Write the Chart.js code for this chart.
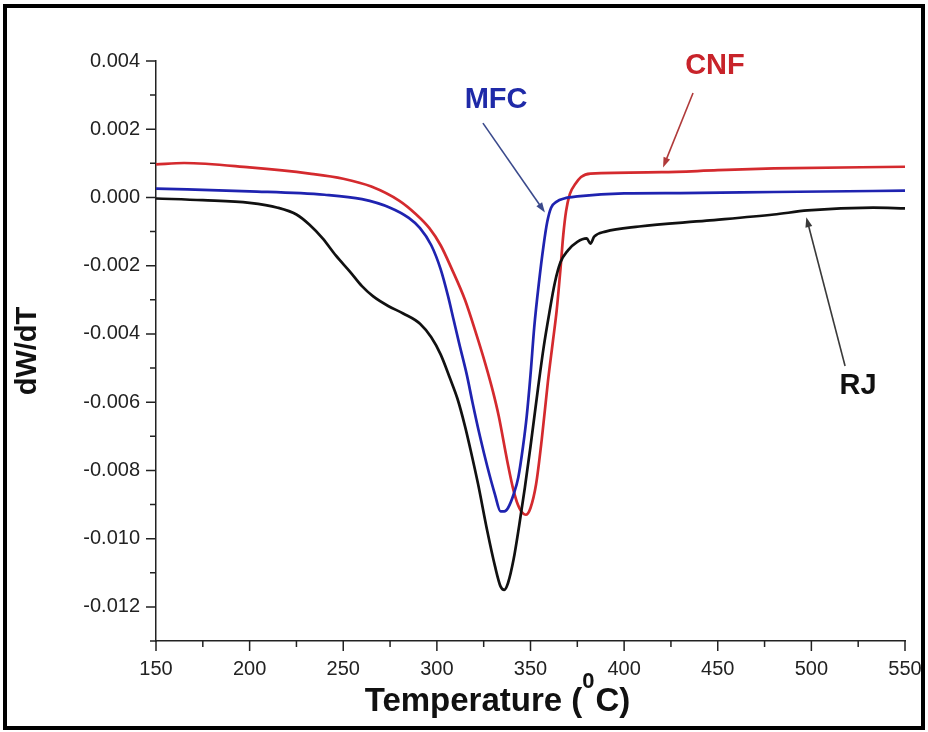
<!DOCTYPE html>
<html>
<head>
<meta charset="utf-8">
<script src="https://cdn.jsdelivr.net/npm/chart.js@4.4.0/dist/chart.umd.min.js"></script>
<style>
  html, body { margin: 0; padding: 0; background: #fff; }
  #wrap { position: relative; width: 928px; height: 732px; }
  #frame {
    position: absolute; left: 3px; top: 4px; width: 922px; height: 726px;
    border: 4px solid #000; box-sizing: border-box; pointer-events: none;
  }
  canvas { position: absolute; left: 0; top: 0; }
</style>
</head>
<body>
<div id="wrap">
  <canvas id="dtgChart" width="928" height="732"></canvas>
  <div id="frame"></div>
</div>
<script>
// Tick labels
const xTicks = [150, 200, 250, 300, 350, 400, 450, 500, 550];
const yTicks = [0.004, 0.002, 0.000, -0.002, -0.004, -0.006, -0.008, -0.010, -0.012];

// RJ (raw jute) - black
const rjTemp  = [150, 175, 200, 215, 225, 232, 239, 246, 254, 260, 266, 274, 282, 291, 297, 302, 307, 311, 315, 318,
                 322, 327, 331, 334, 336, 338, 341, 344, 347, 350, 354, 357, 360, 363, 366, 370, 375, 380, 382, 384,
                 390, 408, 444, 480, 498, 533, 550];
const rjValue = [-0.00003, -0.00008, -0.00016, -0.0003, -0.0005, -0.0008, -0.0012, -0.0017, -0.0022, -0.0026,
                 -0.0029, -0.00318, -0.0034, -0.0037, -0.0041, -0.0046, -0.0053, -0.0059, -0.0067, -0.0074,
                 -0.0084, -0.0098, -0.0108, -0.0114, -0.0115, -0.0113, -0.0106, -0.0096, -0.0085, -0.0073,
                 -0.0056, -0.0044, -0.0034, -0.0025, -0.0019, -0.00155, -0.0013, -0.0012, -0.00135, -0.00115,
                 -0.001, -0.00085, -0.00068, -0.0005, -0.00038, -0.0003, -0.00032];

// MFC - blue
const mfcTemp  = [150, 200, 240, 260, 275, 285, 291, 297, 302, 306, 309, 312, 316, 319, 323, 327, 331, 334, 336, 338,
                  341, 343.5, 346, 348, 350, 352, 354.5, 357, 359, 361, 364, 368, 375, 400, 430, 480, 550];
const mfcValue = [0.00026, 0.00018, 0.00008, -0.00005, -0.0003, -0.0006, -0.0009, -0.0014, -0.0021, -0.0029,
                  -0.0036, -0.0043, -0.0052, -0.006, -0.007, -0.0079, -0.0087, -0.0092, -0.0092, -0.0091,
                  -0.0087, -0.0082, -0.0073, -0.0064, -0.0052, -0.0038, -0.0025, -0.0014, -0.0007, -0.0003,
                  -0.00012, -0.00003, 0.00003, 0.00012, 0.00013, 0.00016, 0.0002];

// CNF - red
const cnfTemp  = [150, 165, 200, 232, 250, 265, 280, 289, 296, 302, 308, 315, 321, 326, 330, 333, 337.5, 341, 344,
                  347.5, 350, 353, 356, 359.3, 362, 364, 366, 367.5, 369, 371, 374, 377, 382, 420, 450, 480, 550];
const cnfValue = [0.00097, 0.00101, 0.00088, 0.0007, 0.00055, 0.00032, -0.0001, -0.0005, -0.0009, -0.0014,
                  -0.0021, -0.0030, -0.0040, -0.0049, -0.0057, -0.0064, -0.0077, -0.0086, -0.0091,
                  -0.0093, -0.0091, -0.0084, -0.0071, -0.0054, -0.0042, -0.0033, -0.0021, -0.0011, -0.0004,
                  0.0001, 0.0004, 0.0006, 0.0007, 0.00074, 0.0008, 0.00085, 0.0009];

// Curve labels with arrows (data coordinates)
const callouts = [
    { text: 'MFC', color: '#1f2aa8', arrow: '#3b4a8c', at: [331.6, 0.00285], from: [324.6, 0.00218], to: [357.7, -0.00044] },
    { text: 'CNF', color: '#c8232a', arrow: '#b03a3a', at: [448.5, 0.00385], from: [436.8, 0.00306], to: [420.8, 0.00088] },
    { text: 'RJ',  color: '#111111', arrow: '#3a3a3a', at: [524.9, -0.00553], from: [518.0, -0.00494], to: [497.3, -0.00058] }
];

const toPoints = (xs, ys) => xs.map((x, i) => ({ x: x, y: ys[i] }));

// axis ticks (major + minor), callouts and the x title with superscript
const decorPlugin = {
    id: 'decor',
    afterDraw(chart) {
        const ctx = chart.ctx;
        const xs = chart.scales.x;
        const ys = chart.scales.y;
        const area = chart.chartArea;

        ctx.save();
        ctx.strokeStyle = '#222';
        ctx.lineWidth = 1.5;
        ctx.beginPath();
        for (let v = 150; v <= 550; v += 25) {
            const px = xs.getPixelForValue(v);
            const len = (v % 50 === 0) ? 10 : 6;
            ctx.moveTo(px, area.bottom);
            ctx.lineTo(px, area.bottom + len);
        }
        for (let k = -13; k <= 4; k++) {
            const py = ys.getPixelForValue(k / 1000);
            const len = (k % 2 === 0) ? 10 : 6;
            ctx.moveTo(area.left, py);
            ctx.lineTo(area.left - len, py);
        }
        ctx.stroke();

        // callouts
        callouts.forEach(c => {
            const x1 = xs.getPixelForValue(c.from[0]), y1 = ys.getPixelForValue(c.from[1]);
            const x2 = xs.getPixelForValue(c.to[0]), y2 = ys.getPixelForValue(c.to[1]);
            const ang = Math.atan2(y2 - y1, x2 - x1);
            ctx.strokeStyle = c.arrow;
            ctx.fillStyle = c.arrow;
            ctx.lineWidth = 1.6;
            ctx.beginPath();
            ctx.moveTo(x1, y1);
            ctx.lineTo(x2 - 6 * Math.cos(ang), y2 - 6 * Math.sin(ang));
            ctx.stroke();
            ctx.beginPath();
            ctx.moveTo(x2, y2);
            ctx.lineTo(x2 - 10 * Math.cos(ang) + 3.5 * Math.sin(ang), y2 - 10 * Math.sin(ang) - 3.5 * Math.cos(ang));
            ctx.lineTo(x2 - 10 * Math.cos(ang) - 3.5 * Math.sin(ang), y2 - 10 * Math.sin(ang) + 3.5 * Math.cos(ang));
            ctx.closePath();
            ctx.fill();

            ctx.fillStyle = c.color;
            ctx.font = "bold 29px 'Liberation Sans', Arial, sans-serif";
            ctx.textAlign = 'center';
            ctx.textBaseline = 'middle';
            ctx.fillText(c.text, xs.getPixelForValue(c.at[0]), ys.getPixelForValue(c.at[1]));
        });

        // x axis title: Temperature (0C) with superscript 0
        const big = "bold 33px 'Liberation Sans', Arial, sans-serif";
        const small = "bold 22px 'Liberation Sans', Arial, sans-serif";
        const p1 = 'Temperature (', p2 = '0', p3 = 'C)';
        ctx.fillStyle = '#111';
        ctx.textAlign = 'left';
        ctx.textBaseline = 'alphabetic';
        ctx.font = big;
        const w1 = ctx.measureText(p1).width, w3 = ctx.measureText(p3).width;
        ctx.font = small;
        const w2 = ctx.measureText(p2).width + 1;
        const cx = (area.left + area.right) / 2 - 33;
        let x = cx - (w1 + w2 + w3) / 2;
        const base = 711;
        ctx.font = big;
        ctx.fillText(p1, x, base);
        x += w1;
        ctx.font = small;
        ctx.fillText(p2, x, base - 23);
        x += w2;
        ctx.font = big;
        ctx.fillText(p3, x, base);
        ctx.restore();
    }
};

const ctx = document.getElementById('dtgChart').getContext('2d');

new Chart(ctx, {
    type: 'scatter',
    data: {
        datasets: [
            {
                label: 'RJ',
                data: toPoints(rjTemp, rjValue),
                borderColor: '#111111',
                borderWidth: 2.7
            },
            {
                label: 'MFC',
                data: toPoints(mfcTemp, mfcValue),
                borderColor: '#1f23b0',
                borderWidth: 2.7
            },
            {
                label: 'CNF',
                data: toPoints(cnfTemp, cnfValue),
                borderColor: '#d42a2e',
                borderWidth: 2.7
            }
        ].map(d => Object.assign(d, {
            showLine: true,
            pointRadius: 0,
            fill: false,
            cubicInterpolationMode: 'monotone'
        }))
    },
    options: {
        responsive: false,
        animation: false,
        layout: { padding: { top: 61, right: 23, bottom: 0, left: 0 } },
        plugins: {
            legend: { display: false },
            tooltip: { enabled: false }
        },
        scales: {
            x: {
                type: 'linear',
                min: 150,
                max: 550,
                afterBuildTicks: scale => { scale.ticks = xTicks.map(v => ({ value: v })); },
                afterFit: scale => { scale.height = 91; },
                ticks: {
                    color: '#222',
                    padding: 6,
                    maxRotation: 0,
                    font: { family: "'Liberation Sans', Arial, sans-serif", size: 20 }
                },
                grid: { display: false, drawTicks: true, tickLength: 10 },
                border: { display: true, color: '#222', width: 1.5 }
            },
            y: {
                type: 'linear',
                min: -0.013,
                max: 0.004,
                afterBuildTicks: scale => { scale.ticks = yTicks.map(v => ({ value: v })); },
                afterFit: scale => { scale.width = 156; },
                ticks: {
                    color: '#222',
                    padding: 6,
                    callback: v => v.toFixed(3),
                    font: { family: "'Liberation Sans', Arial, sans-serif", size: 20 }
                },
                grid: { display: false, drawTicks: true, tickLength: 10 },
                border: { display: true, color: '#222', width: 1.5 },
                title: {
                    display: true,
                    text: 'dW/dT',
                    color: '#111',
                    padding: { top: 11, bottom: 0 },
                    font: { family: "'Liberation Sans', Arial, sans-serif", size: 29, weight: 'bold' }
                }
            }
        }
    },
    plugins: [decorPlugin]
});
</script>
</body>
</html>
